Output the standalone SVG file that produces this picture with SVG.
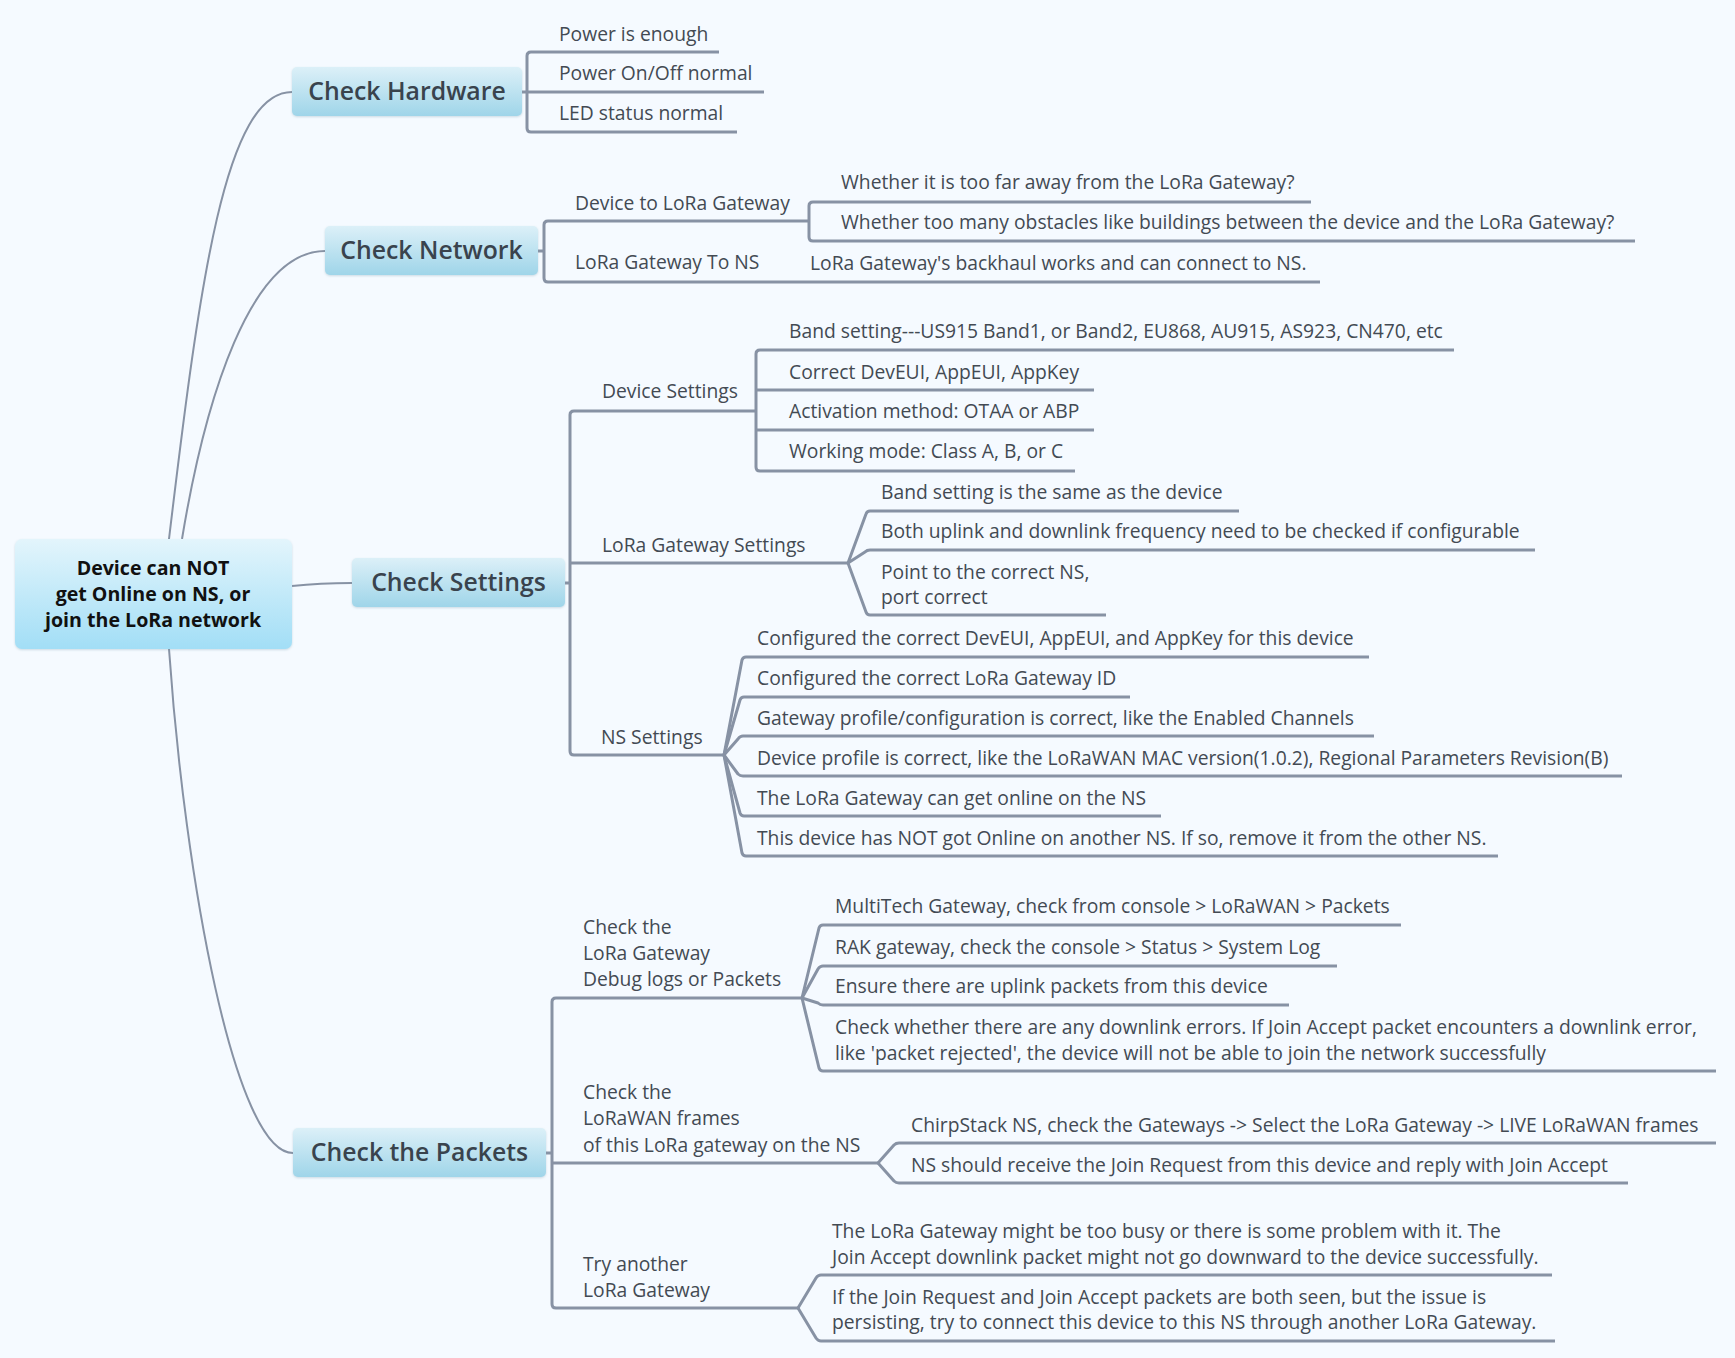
<svg xmlns="http://www.w3.org/2000/svg" width="1735" height="1358" viewBox="0 0 1735 1358">
<defs>
<linearGradient id="gRoot" x1="0" y1="0" x2="0" y2="1">
<stop offset="0" stop-color="#e3f5fc"/><stop offset="1" stop-color="#a2def6"/>
</linearGradient>
<linearGradient id="gMain" x1="0" y1="0" x2="0" y2="1">
<stop offset="0" stop-color="#dcf0f8"/><stop offset="1" stop-color="#9fd5e9"/>
</linearGradient>
<filter id="sh" x="-10%" y="-10%" width="120%" height="130%">
<feDropShadow dx="0" dy="1" stdDeviation="1" flood-color="#7aa0b0" flood-opacity="0.35"/>
</filter>
</defs>
<style>
.bg{fill:#f5faff}
.root{font-family:"Open Sans","Noto Sans",sans-serif;font-size:19.6px;font-weight:700;fill:#111;text-anchor:middle}
.main{font-family:"Open Sans","Noto Sans",sans-serif;font-size:24.8px;font-weight:600;fill:#39434d;text-anchor:middle}
.t{font-family:"Open Sans","Noto Sans",sans-serif;font-size:19.3px;fill:#434a53}
.ln{fill:none;stroke:#8792a4;stroke-width:3;stroke-linejoin:round}
.cv{fill:none;stroke:#8792a4;stroke-width:2}
</style>
<rect class="bg" x="0" y="0" width="1735" height="1358"/>

<g id="connectors">
<path class="cv" d="M169,539 C200,280 225,92 292,92"/>
<path class="cv" d="M182,539 C205,400 250,251 325,251"/>
<path class="cv" d="M292,586 C320,583 330,583 352,583"/>
<path class="cv" d="M169,649 C185,880 235,1153 293,1153"/>

<!-- Hardware -->
<path class="ln" d="M719,52 H531 Q527,52 527,56 V128 Q527,132 531,132 H737"/>
<path class="ln" d="M522,92 H764"/>

<!-- Network -->
<path class="ln" d="M809,221 H548 Q544,221 544,225 V278 Q544,282 548,282 H1320"/>
<path class="ln" d="M538,251 H544"/>
<path class="ln" d="M1311,202 H813 Q809,202 809,206 V237 Q809,241 813,241 H1635"/>

<!-- Settings -->
<path class="ln" d="M755,411 H574 Q570,411 570,415 V751 Q570,755 574,755 H724"/>
<path class="ln" d="M565,583 H570"/>
<path class="ln" d="M570,563 H848"/>
<path class="ln" d="M1454,350 H760 Q756,350 756,354 V467 Q756,471 760,471 H1075"/>
<path class="ln" d="M756,390 H1094"/>
<path class="ln" d="M756,430 H1094"/>
<path class="ln" d="M848,563 L866,514 Q867,511 870,511 H1239"/>
<path class="ln" d="M848,563 L865,552 Q867,550 870,550 H1535"/>
<path class="ln" d="M848,563 L866,612 Q867,615 870,615 H1106"/>
<path class="ln" d="M724,755 L742,660 Q743,657 746,657 H1369"/>
<path class="ln" d="M724,755 L740,700 Q741,697 744,697 H1130"/>
<path class="ln" d="M724,755 L738,739 Q740,736 743,736 H1374"/>
<path class="ln" d="M724,755 L738,774 Q740,776 743,776 H1622"/>
<path class="ln" d="M724,755 L740,813 Q741,816 744,816 H1161"/>
<path class="ln" d="M724,755 L742,853 Q743,856 746,856 H1498"/>

<!-- Packets -->
<path class="ln" d="M802,998 H556 Q552,998 552,1002 V1304 Q552,1308 556,1308 H798"/>
<path class="ln" d="M546,1153 H552"/>
<path class="ln" d="M552,1163 H878"/>
<path class="ln" d="M802,998 L819,928 Q820,925 823,925 H1401"/>
<path class="ln" d="M802,998 L818,969 Q820,966 823,966 H1337"/>
<path class="ln" d="M802,998 L818,1003 Q820,1005 823,1005 H1289"/>
<path class="ln" d="M802,998 L819,1068 Q820,1071 823,1071 H1716"/>
<path class="ln" d="M878,1163 L894,1145 Q896,1143 899,1143 H1716"/>
<path class="ln" d="M878,1163 L894,1181 Q896,1183 899,1183 H1628"/>
<path class="ln" d="M798,1308 L816,1278 Q818,1275 821,1275 H1552"/>
<path class="ln" d="M798,1308 L816,1338 Q818,1341 821,1341 H1555"/>
</g>

<g id="root">
<rect x="15" y="539" width="277" height="110" rx="7" fill="url(#gRoot)" filter="url(#sh)"/>
<text class="root" x="153" y="575">Device can NOT</text>
<text class="root" x="153" y="601">get Online on NS, or</text>
<text class="root" x="153" y="627">join the LoRa network</text>
</g>

<g id="hardware">
<rect x="292" y="67" width="230" height="49" rx="5" fill="url(#gMain)" filter="url(#sh)"/>
<text class="main" x="407" y="100">Check Hardware</text>
<text class="t" x="559" y="41">Power is enough</text>
<text class="t" x="559" y="80">Power On/Off normal</text>
<text class="t" x="559" y="120">LED status normal</text>
</g>

<g id="network">
<rect x="325" y="226" width="213" height="49" rx="5" fill="url(#gMain)" filter="url(#sh)"/>
<text class="main" x="431.5" y="259">Check Network</text>
<text class="t" x="575" y="210">Device to LoRa Gateway</text>
<text class="t" x="575" y="269">LoRa Gateway To NS</text>
<text class="t" x="841" y="189">Whether it is too far away from the LoRa Gateway?</text>
<text class="t" x="841" y="229">Whether too many obstacles like buildings between the device and the LoRa Gateway?</text>
<text class="t" x="810" y="270">LoRa Gateway's backhaul works and can connect to NS.</text>
</g>

<g id="settings">
<rect x="352" y="558" width="213" height="49" rx="5" fill="url(#gMain)" filter="url(#sh)"/>
<text class="main" x="458.5" y="591">Check Settings</text>
<text class="t" x="602" y="398">Device Settings</text>
<text class="t" x="602" y="552">LoRa Gateway Settings</text>
<text class="t" x="601" y="744">NS Settings</text>
<text class="t" x="789" y="338">Band setting---US915 Band1, or Band2, EU868, AU915, AS923, CN470, etc</text>
<text class="t" x="789" y="379">Correct DevEUI, AppEUI, AppKey</text>
<text class="t" x="789" y="418">Activation method: OTAA or ABP</text>
<text class="t" x="789" y="458">Working mode: Class A, B, or C</text>
<text class="t" x="881" y="499">Band setting is the same as the device</text>
<text class="t" x="881" y="538">Both uplink and downlink frequency need to be checked if configurable</text>
<text class="t" x="881" y="579">Point to the correct NS,</text>
<text class="t" x="881" y="604">port correct</text>
<text class="t" x="757" y="645">Configured the correct DevEUI, AppEUI, and AppKey for this device</text>
<text class="t" x="757" y="685">Configured the correct LoRa Gateway ID</text>
<text class="t" x="757" y="725">Gateway profile/configuration is correct, like the Enabled Channels</text>
<text class="t" x="757" y="765">Device profile is correct, like the LoRaWAN MAC version(1.0.2), Regional Parameters Revision(B)</text>
<text class="t" x="757" y="805">The LoRa Gateway can get online on the NS</text>
<text class="t" x="757" y="845">This device has NOT got Online on another NS. If so, remove it from the other NS.</text>
</g>

<g id="packets">
<rect x="293" y="1128" width="253" height="49" rx="5" fill="url(#gMain)" filter="url(#sh)"/>
<text class="main" x="419.5" y="1161">Check the Packets</text>
<text class="t" x="583" y="934">Check the</text>
<text class="t" x="583" y="960">LoRa Gateway</text>
<text class="t" x="583" y="986">Debug logs or Packets</text>
<text class="t" x="583" y="1099">Check the</text>
<text class="t" x="583" y="1125">LoRaWAN frames</text>
<text class="t" x="583" y="1152">of this LoRa gateway on the NS</text>
<text class="t" x="583" y="1271">Try another</text>
<text class="t" x="583" y="1297">LoRa Gateway</text>
<text class="t" x="835" y="913">MultiTech Gateway, check from console &gt; LoRaWAN &gt; Packets</text>
<text class="t" x="835" y="954">RAK gateway, check the console &gt; Status &gt; System Log</text>
<text class="t" x="835" y="993">Ensure there are uplink packets from this device</text>
<text class="t" x="835" y="1034">Check whether there are any downlink errors. If Join Accept packet encounters a downlink error,</text>
<text class="t" x="835" y="1060">like 'packet rejected', the device will not be able to join the network successfully</text>
<text class="t" x="911" y="1132">ChirpStack NS, check the Gateways -&gt; Select the LoRa Gateway -&gt; LIVE LoRaWAN frames</text>
<text class="t" x="911" y="1172">NS should receive the Join Request from this device and reply with Join Accept</text>
<text class="t" x="832" y="1238">The LoRa Gateway might be too busy or there is some problem with it. The</text>
<text class="t" x="832" y="1264">Join Accept downlink packet might not go downward to the device successfully.</text>
<text class="t" x="832" y="1304">If the Join Request and Join Accept packets are both seen, but the issue is</text>
<text class="t" x="832" y="1329">persisting, try to connect this device to this NS through another LoRa Gateway.</text>
</g>
</svg>
